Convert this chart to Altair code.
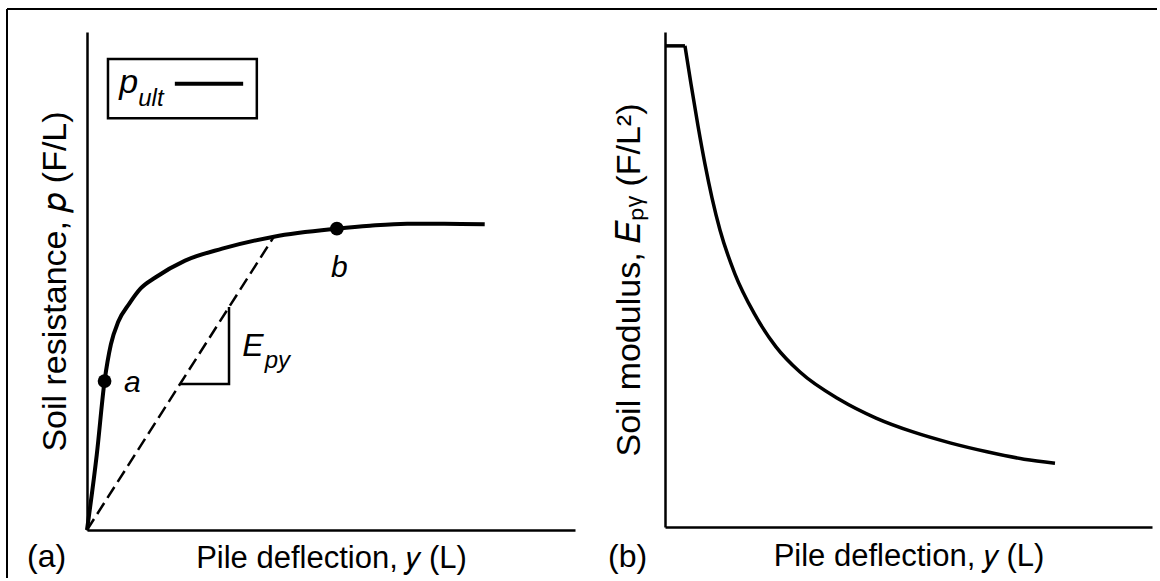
import altair as alt
import pandas as pd

FONT = "Liberation Sans"

# ---------------- Panel (a): p-y curve ----------------
py_x = [0, 2.0, 3.6, 4.9, 6.4, 8.7, 11.0, 14.0, 20.1, 27.7, 38.3, 51.2, 58.0, 65.6, 73.2, 81.5]
py_p = [0, 15.1, 29.9, 37.3, 41.8, 45.5, 48.5, 50.7, 54.1, 56.5, 58.9, 60.5, 61.1, 61.5, 61.5, 61.4]

point_names = ["a", "b"]
point_x = [3.6, 51.2]
point_p = [29.9, 60.5]

secant_x = [0, 38.3]
secant_p = [0, 58.9]

slope_x = [19.1, 29.1, 29.1]
slope_p = [29.3, 29.3, 44.8]

legend_box_x = [4.3, 34.8]
legend_box_y = [82.7, 94.6]
legend_line_x = [18.0, 32.0]
legend_line_y = [89.6]

ann_text = ["a", "b", "E", "py", "p", "ult"]
ann_x = [7.6, 50.0, 31.8, 36.4, 6.6, 10.5]
ann_y = [27.7, 50.8, 34.9, 32.5, 87.8, 85.1]
ann_fs = [30, 30, 32, 24, 34, 24]

# ---------------- Panel (b): modulus curve ----------------
plateau_x = [0, 4.1]
plateau_e = [97.2, 97.2]
mod_x = [4.1, 5.34, 6.78, 8.21, 9.65, 11.29, 14.37, 18.28, 22.79, 27.72, 35.93,
         43.33, 50.92, 58.52, 66.12, 73.72, 80.08]
mod_e = [97.2, 89.5, 81.0, 73.3, 66.5, 60.0, 51.1, 43.2, 36.4, 31.3, 25.7,
         22.0, 19.2, 17.0, 15.2, 13.7, 12.9]

# ---------------- tables ----------------
df_py = pd.DataFrame({"x": py_x, "y": py_p, "i": range(len(py_x))})
df_pts = pd.DataFrame({"x": point_x, "y": point_p, "n": point_names})
df_sec = pd.DataFrame({"x": secant_x, "y": secant_p})
df_slope = pd.DataFrame({"x": slope_x, "y": slope_p, "i": range(len(slope_x))})
df_box = pd.DataFrame({"x": [legend_box_x[0]], "x2": [legend_box_x[1]],
                       "y": [legend_box_y[0]], "y2": [legend_box_y[1]]})
df_leg = pd.DataFrame({"x": [legend_line_x[0]], "x2": [legend_line_x[1]], "y": legend_line_y})
df_ann = pd.DataFrame({"x": ann_x, "y": ann_y, "t": ann_text, "fs": ann_fs})
df_plat = pd.DataFrame({"x": plateau_x, "y": plateau_e})
df_mod = pd.DataFrame({"x": mod_x, "y": mod_e, "i": range(len(mod_x))})
dummy = pd.DataFrame({"k": [0]})

W1, H1 = 488, 498
W2, H2 = 487, 495

def xs():
    return alt.Scale(domain=[0, 100], nice=False, zero=False)

def ys():
    return alt.Scale(domain=[0, 100], nice=False, zero=False)

def x_axis(w, ty):
    return alt.Axis(title="Pile deflection, 𝑦 (L)", labels=False, ticks=False, grid=False,
                    titleX=w / 2, titleY=ty, titleBaseline="alphabetic", titleAlign="center",
                    titleFontSize=31, titleFontWeight="normal", titleFont=FONT,
                    titleColor="black", domainColor="black", domainWidth=2.5)

def y_axis(title, h, tx):
    return alt.Axis(title=title, labels=False, ticks=False, grid=False,
                    titleX=tx, titleY=h / 2, titleAngle=270, titleBaseline="alphabetic",
                    titleAlign="center", titleFontSize=34, titleFontWeight="normal",
                    titleFont=FONT, titleColor="black", domainColor="black", domainWidth=2.5)

# ---- left panel ----
base1 = alt.Chart(df_py)
curve1 = base1.mark_line(color="black", strokeWidth=4, interpolate="monotone").encode(
    x=alt.X("x:Q", scale=xs(), axis=x_axis(W1, 37)),
    y=alt.Y("y:Q", scale=ys(), axis=y_axis("Soil resistance, 𝑝 (F/L)", H1, -22)),
    order="i:Q",
)
secant = alt.Chart(df_sec).mark_line(color="black", strokeWidth=2.5, strokeDash=[13, 6]).encode(
    x="x:Q", y="y:Q")
slope = alt.Chart(df_slope).mark_line(color="black", strokeWidth=2.5).encode(
    x="x:Q", y="y:Q", order="i:Q")
pts = alt.Chart(df_pts).mark_circle(color="black", size=190, opacity=1).encode(x="x:Q", y="y:Q")
box = alt.Chart(df_box).mark_rect(fillOpacity=0, stroke="black", strokeWidth=2.5).encode(
    x="x:Q", x2="x2:Q", y="y:Q", y2="y2:Q")
legline = alt.Chart(df_leg).mark_rule(color="black", strokeWidth=4).encode(
    x="x:Q", x2="x2:Q", y="y:Q")
ann = alt.Chart(df_ann).mark_text(font=FONT, fontStyle="italic", align="left",
                                  baseline="alphabetic", color="black").encode(
    x="x:Q", y="y:Q", text="t:N", size=alt.Size("fs:Q", scale=None, legend=None))
lab_a = alt.Chart(dummy).mark_text(text="(a)", font=FONT, fontSize=32, align="left",
                                   baseline="alphabetic", color="black").encode(
    x=alt.value(-60), y=alt.value(535))
border_top = alt.Chart(dummy).mark_rule(color="black", strokeWidth=2).encode(
    x=alt.value(-80), x2=alt.value(1070), y=alt.value(-23))
border_left = alt.Chart(dummy).mark_rule(color="black", strokeWidth=2).encode(
    x=alt.value(-80), y=alt.value(-23), y2=alt.value(546))

left = alt.layer(curve1, secant, slope, pts, box, legline, ann, lab_a, border_top, border_left
                 ).properties(width=W1, height=H1)

# ---- right panel ----
plat = alt.Chart(df_plat).mark_line(color="black", strokeWidth=3.5).encode(
    x=alt.X("x:Q", scale=xs(), axis=x_axis(W2, 38)),
    y=alt.Y("y:Q", scale=ys(), axis=y_axis("Soil modulus, 𝐸ₚᵧ (F/L²)", H2, -26)),
)
curve2 = alt.Chart(df_mod).mark_line(color="black", strokeWidth=3.5, interpolate="monotone").encode(
    x="x:Q", y="y:Q", order="i:Q")
lab_b = alt.Chart(dummy).mark_text(text="(b)", font=FONT, fontSize=32, align="left",
                                   baseline="alphabetic", color="black").encode(
    x=alt.value(-57), y=alt.value(535))

right = alt.layer(plat, curve2, lab_b).properties(width=W2, height=H2)

chart = alt.hconcat(left, right, spacing=90, bounds="flush").properties(
    padding={"left": 6, "top": 8, "right": 0, "bottom": 0},
    background="white",
).configure_view(stroke=None)

chart.save("out.html", embed_options={"renderer": "svg", "actions": False})
